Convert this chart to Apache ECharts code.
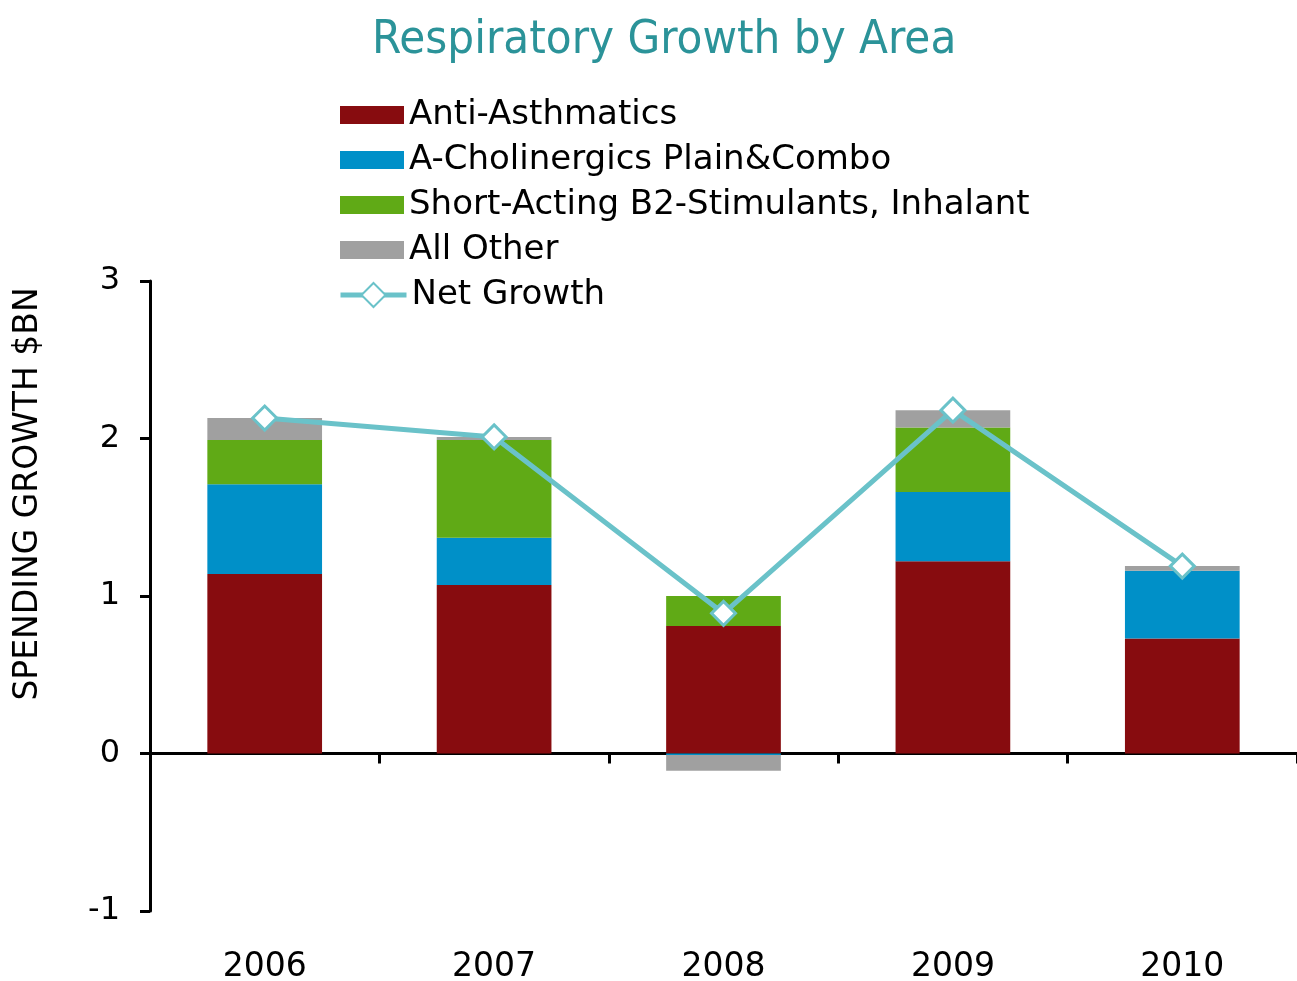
<!DOCTYPE html>
<html><head><meta charset="utf-8">
<script src="https://cdn.jsdelivr.net/npm/echarts@6/dist/echarts.min.js"></script>
<style>html,body{margin:0;padding:0;background:#fff}#c{width:1297px;height:981px}</style>
</head><body><div id="c"></div>
<script>
var categories = ['2006','2007','2008','2009','2010'];
var antiAsthmatics = [1.14, 1.07, 0.81, 1.22, 0.73];
var aCholinergics = [0.57, 0.30, -0.01, 0.44, 0.43];
var shortActing = [0.28, 0.62, 0.19, 0.41, 0.00];
var allOther = [0.14, 0.02, -0.10, 0.11, 0.03];
var netGrowth = [2.13, 2.01, 0.89, 2.18, 1.19];
var yTicks = [-1, 0, 1, 2, 3];

var font = 'DejaVu Sans';
var lineColor = '#6ac2c9';
function barSeries(name, data, color) {
  return { name: name, type: 'bar', stack: 'total', data: data, barWidth: '50%',
    itemStyle: { color: color }, xAxisIndex: 0 };
}
var chart = echarts.init(document.getElementById('c'), null, {renderer: 'canvas'});
chart.setOption({
  animation: false,
  title: { text: 'Respiratory Growth by Area', left: 367, top: 12,
    textStyle: { fontFamily: 'DejaVu Sans Condensed', fontWeight: 'normal', fontSize: 47, color: '#2b9399' } },
  legend: [
    { orient: 'vertical', left: 340, top: 98, padding: 0, itemWidth: 64, itemHeight: 18, itemGap: 11,
      icon: 'rect',
      textStyle: { fontFamily: font, fontSize: 34, color: '#000', lineHeight: 34 },
      data: ['Anti-Asthmatics', 'A-Cholinergics Plain&Combo', 'Short-Acting B2-Stimulants, Inhalant', 'All Other'] },
    { orient: 'vertical', left: 338, top: 278, padding: 0, itemWidth: 66, itemHeight: 30,
      lineStyle: { width: 5 },
      textStyle: { fontFamily: font, fontSize: 34, color: '#000', lineHeight: 34 },
      data: ['Net Growth'] }
  ],
  graphic: [
    { type: 'text', x: 28, y: 494, rotation: Math.PI / 2,
      style: { text: 'SPENDING GROWTH $BN', fontFamily: font, fontSize: 33, fill: '#000',
        align: 'center', verticalAlign: 'middle' } }
  ],
  grid: { left: 150, right: 0, top: 281, bottom: 70, containLabel: false, outerBoundsMode: 'none' },
  xAxis: [
    { type: 'category', data: categories, boundaryGap: true,
      axisLine: { onZero: true, lineStyle: { color: '#000', width: 3 } },
      axisTick: { show: true, inside: false, length: 10, lineStyle: { color: '#000', width: 3 } },
      axisLabel: { show: false } },
    { type: 'category', data: categories, position: 'bottom', boundaryGap: true,
      axisLine: { show: false, onZero: false }, axisTick: { show: false },
      axisLabel: { fontFamily: font, fontSize: 33, color: '#000', margin: 40 } }
  ],
  yAxis: { type: 'value', min: -1, max: 3, interval: 1,
    axisLine: { show: true, lineStyle: { color: '#000', width: 3 } },
    axisTick: { show: true, length: 10, lineStyle: { color: '#000', width: 3 } },
    axisLabel: { fontFamily: font, fontSize: 32, color: '#000', margin: 30,
      formatter: function (v) { return yTicks.indexOf(v) >= 0 ? String(v) : ''; } },
    splitLine: { show: false } },
  series: [
    barSeries('Anti-Asthmatics', antiAsthmatics, '#870c0f'),
    barSeries('A-Cholinergics Plain&Combo', aCholinergics, '#0090c8'),
    barSeries('Short-Acting B2-Stimulants, Inhalant', shortActing, '#60aa16'),
    barSeries('All Other', allOther, '#a0a0a0'),
    { name: 'Net Growth', type: 'line', data: netGrowth, xAxisIndex: 0,
      symbol: 'diamond', symbolSize: 24, z: 5,
      lineStyle: { color: lineColor, width: 5 },
      itemStyle: { color: '#ffffff', borderColor: lineColor, borderWidth: 3 } }
  ]
});
</script></body></html>
